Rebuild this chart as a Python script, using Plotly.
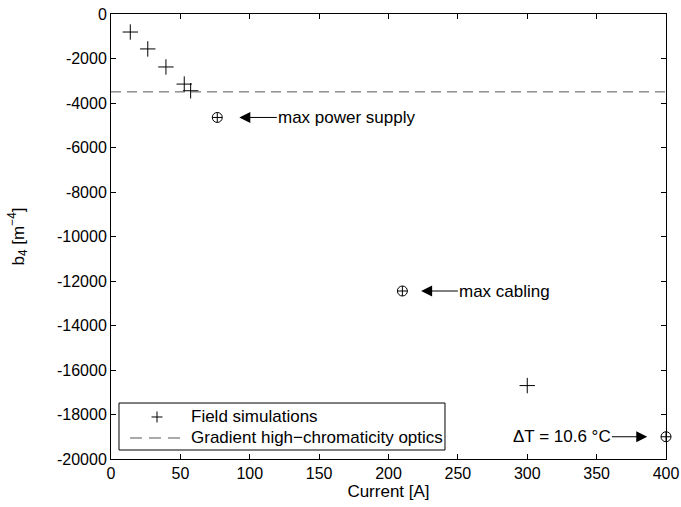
import plotly.graph_objects as go

# Field simulation results: b4 versus excitation current
sim_current = [13.9, 26.5, 39.6, 52.8, 57.4, 300]
sim_b4 = [-810, -1570, -2380, -3150, -3450, -16700]

# Gradient requirement for the high-chromaticity optics
optics_b4 = -3500
optics_range = [0, 400]

# Operating limits marked on the plot
limit_current = [76.6, 210, 400]
limit_b4 = [-4650, -12450, -19000]
limit_labels = ["max power supply", "max cabling", "ΔT = 10.6 °C"]

# Legend entries
legend_names = ["Field simulations", "Gradient high\u2212chromaticity optics"]

# Axis ticks
x_ticks = list(range(0, 401, 50))
y_ticks = list(range(-20000, 1, 2000))

FONT = "Liberation Sans, Arial, Helvetica, sans-serif"
FS_TICK = 16
FS_TEXT = 17
DASH = "10px,6px"

fig = go.Figure()

fig.add_trace(go.Scatter(
    x=sim_current, y=sim_b4, mode="markers", name=legend_names[0],
    showlegend=False,
    marker=dict(symbol="cross-thin", size=11, color="black",
                line=dict(width=1, color="black")),
))
fig.add_trace(go.Scatter(
    x=optics_range, y=[optics_b4] * len(optics_range), mode="lines",
    name=legend_names[1], showlegend=False,
    line=dict(color="#555555", width=1, dash=DASH),
))
fig.add_trace(go.Scatter(
    x=limit_current, y=limit_b4, mode="markers", showlegend=False,
    marker=dict(symbol="circle-cross-open", size=10, color="black",
                line=dict(width=1, color="black")),
    cliponaxis=False,
))

# Arrows pointing at each limit marker: (arrow tip, text edge, text anchor)
arrow_specs = [
    (92.5, 119.5, "left"),
    (223.5, 250.0, "left"),
    (386.5, 361.0, "right"),
]
for (xc, yb, txt, (tip, tail, anchor)) in zip(limit_current, limit_b4, limit_labels, arrow_specs):
    fig.add_annotation(
        x=tip, y=yb, ax=tail, ay=yb, axref="x", ayref="y", xref="x", yref="y",
        text=txt, showarrow=True, arrowhead=2, arrowsize=2.2, arrowwidth=1,
        arrowcolor="black", xanchor=anchor, yanchor="middle",
        font=dict(family=FONT, size=FS_TEXT, color="black"), borderpad=0,
    )

# Boxed legend in the lower-left corner of the axes (paper coordinates)
box = dict(x0=0.0144, x1=0.6018, y0=0.0202, y1=0.1258)
row_y = [0.0944, 0.0472]
sample_x = 0.0829
fig.add_shape(type="rect", xref="paper", yref="paper", layer="above",
              fillcolor="white", line=dict(color="black", width=1), **box)
# "+" sample for the simulations
dx, dy = 0.0099, 0.0124
fig.add_shape(type="line", xref="paper", yref="paper", layer="above",
              x0=sample_x - dx, x1=sample_x + dx, y0=row_y[0], y1=row_y[0],
              line=dict(color="black", width=1))
fig.add_shape(type="line", xref="paper", yref="paper", layer="above",
              x0=sample_x, x1=sample_x, y0=row_y[0] - dy, y1=row_y[0] + dy,
              line=dict(color="black", width=1))
# dashed sample for the optics gradient
fig.add_shape(type="line", xref="paper", yref="paper", layer="above",
              x0=0.0342, x1=0.1290, y0=row_y[1], y1=row_y[1],
              line=dict(color="#555555", width=1, dash="12px,7px"))
for name, ry in zip(legend_names, row_y):
    fig.add_annotation(x=0.1405, y=ry, xref="paper", yref="paper",
                       text=name, showarrow=False, xanchor="left",
                       yanchor="middle",
                       font=dict(family=FONT, size=FS_TEXT, color="black"))

axis_common = dict(
    showline=True, linecolor="black", linewidth=1, mirror="ticks",
    ticks="inside", ticklen=5, tickcolor="black", showgrid=False,
    zeroline=False, automargin=False,
    tickfont=dict(family=FONT, size=FS_TICK, color="black"),
)

fig.update_layout(
    width=681, height=507,
    margin=dict(l=111, r=15, t=14, b=48),
    paper_bgcolor="white", plot_bgcolor="white",
    font=dict(family=FONT, size=FS_TICK, color="black"),
    xaxis=dict(range=[0, 400], tickvals=x_ticks,
               title=dict(text="Current [A]", standoff=2,
                          font=dict(family=FONT, size=FS_TEXT)),
               **axis_common),
    yaxis=dict(range=[-20000, 0], tickvals=y_ticks,
               ticktext=[str(v) for v in y_ticks],
               title=dict(text="b<sub>4</sub> [m<sup>\u22124</sup>]", standoff=28,
                          font=dict(family=FONT, size=FS_TEXT)),
               **axis_common),
    showlegend=False,
)

fig.write_html("out.html")
